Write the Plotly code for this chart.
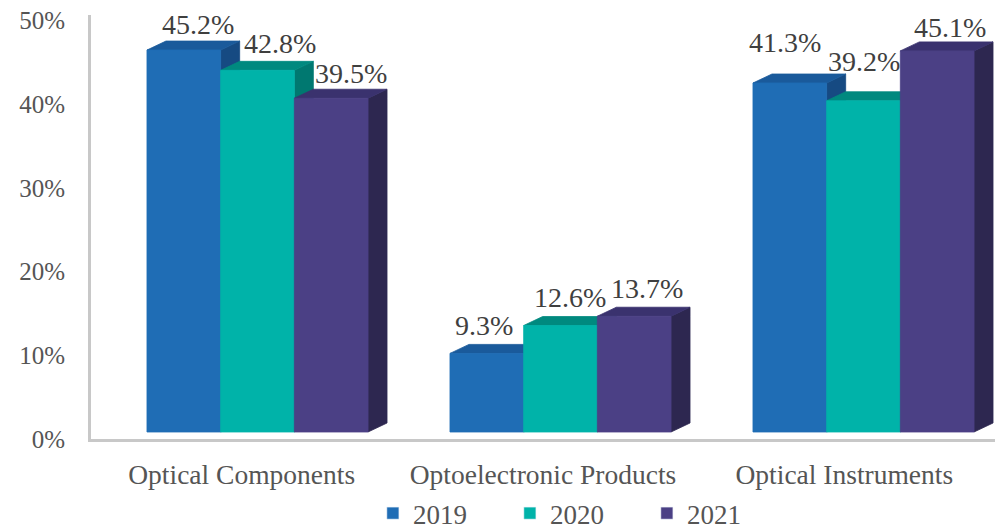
import plotly.graph_objects as go

# ---- data -------------------------------------------------------------
categories = ["Optical Components", "Optoelectronic Products", "Optical Instruments"]
years = ["2019", "2020", "2021"]
share_2019 = [45.2, 9.3, 41.3]
share_2020 = [42.8, 12.6, 39.2]
share_2021 = [39.5, 13.7, 45.1]
y_tick_values = [0, 10, 20, 30, 40, 50]
y_tick_labels = ["0%", "10%", "20%", "30%", "40%", "50%"]

series_values = [share_2019, share_2020, share_2021]

# ---- styling ----------------------------------------------------------
FONT = "Liberation Serif, Times New Roman, serif"
TEXT_GREY = "#555555"
front_colors = ["#1F6DB5", "#00B3A9", "#4B4085"]
top_colors = ["#1A5A9B", "#00897F", "#3A326E"]
side_colors = ["#164A82", "#007870", "#2D2750"]

W, H = 997, 530
PLOT_L, PLOT_R, PLOT_T, PLOT_B = 91, 995, 15, 439  # pixel box of the plot area

# bar axes (x2/y2): category spacing and value scale in pixels
CAT_PX = 303.0
CAT0_PX = 257.5
VAL_PX = 8.45
ZERO_PX = 432.0
x2_range = [(PLOT_L - CAT0_PX) / CAT_PX, (PLOT_R - CAT0_PX) / CAT_PX]
y2_range = [(ZERO_PX - PLOT_B) / VAL_PX, (ZERO_PX - PLOT_T) / VAL_PX]

BAR_W = 0.2432            # width of one bar in category units
DEPTH_X = 19 / CAT_PX     # oblique depth, horizontal
DEPTH_Y = 9 / VAL_PX      # oblique depth, vertical

# per-label pixel nudges (dx, dy) from the front-top centre of each bar
label_nudges = [
    [(14, 26), (-3, 28), (-5, 41)],
    [(22, 27), (9, 28), (0, 39)],
    [(20, 25), (13, 28), (13, 23)],
]

fig = go.Figure()


def polys(values, s, face):
    xs, ys = [], []
    for c, h in enumerate(values):
        x0 = c - 1.5 * BAR_W + s * BAR_W
        x1 = x0 + BAR_W
        if face == "front":
            px = [x0, x1, x1, x0, x0]
            py = [0, 0, h, h, 0]
        elif face == "top":
            px = [x0, x1, x1 + DEPTH_X, x0 + DEPTH_X, x0]
            py = [h, h, h + DEPTH_Y, h + DEPTH_Y, h]
        else:
            px = [x1, x1 + DEPTH_X, x1 + DEPTH_X, x1, x1]
            py = [0, DEPTH_Y, h + DEPTH_Y, h, 0]
        xs += px + [None]
        ys += py + [None]
    return xs, ys


for s, values in enumerate(series_values):
    for face, col in (("side", side_colors[s]), ("top", top_colors[s]),
                      ("front", front_colors[s])):
        xs, ys = polys(values, s, face)
        fig.add_trace(go.Scatter(
            x=xs, y=ys, xaxis="x2", yaxis="y2", mode="lines",
            fill="toself", fillcolor=col, line=dict(color=col, width=0.8),
            hoverinfo="skip", showlegend=False,
        ))

# legend entries
for s, year in enumerate(years):
    fig.add_trace(go.Bar(x=[None], y=[None], name=year,
                         marker_color=front_colors[s], showlegend=True))

# value labels
for s, values in enumerate(series_values):
    for c, h in enumerate(values):
        x0 = c - 1.5 * BAR_W + s * BAR_W
        dx, dy = label_nudges[s][c]
        fig.add_annotation(
            x=x0 + BAR_W / 2, y=h, xref="x2", yref="y2",
            text=f"{h:.1f}%", showarrow=False,
            xanchor="center", yanchor="middle", xshift=dx, yshift=dy,
            font=dict(family=FONT, size=28, color="#3F3F3F"),
        )

fig.update_layout(
    width=W, height=H, autosize=False,
    margin=dict(l=PLOT_L, r=W - PLOT_R, t=PLOT_T, b=H - PLOT_B),
    paper_bgcolor="white", plot_bgcolor="white",
    showlegend=True,
    legend=dict(orientation="h", xref="container", yref="container",
                x=0.374, xanchor="left", y=0.031, yanchor="middle",
                font=dict(family=FONT, size=27, color=TEXT_GREY),
                entrywidth=92, itemwidth=30, bgcolor="rgba(0,0,0,0)"),
    xaxis=dict(type="linear", range=[-0.5, 2.5], tickvals=[0, 1, 2],
               ticktext=categories, showline=True, linecolor="#C8C8C8",
               linewidth=3, showgrid=False, zeroline=False, ticks="",
               ticklabelstandoff=9, automargin=False,
               tickfont=dict(family=FONT, size=27.5, color=TEXT_GREY)),
    yaxis=dict(range=[0, 50.66], tickvals=y_tick_values, ticktext=y_tick_labels,
               showline=True, linecolor="#C8C8C8", linewidth=3, showgrid=False,
               zeroline=False, ticks="", ticklabelstandoff=18, automargin=False,
               tickfont=dict(family=FONT, size=25, color=TEXT_GREY)),
    xaxis2=dict(overlaying="x", range=x2_range, visible=False, type="linear"),
    yaxis2=dict(overlaying="y", range=y2_range, visible=False),
)

fig.write_html("out.html")
